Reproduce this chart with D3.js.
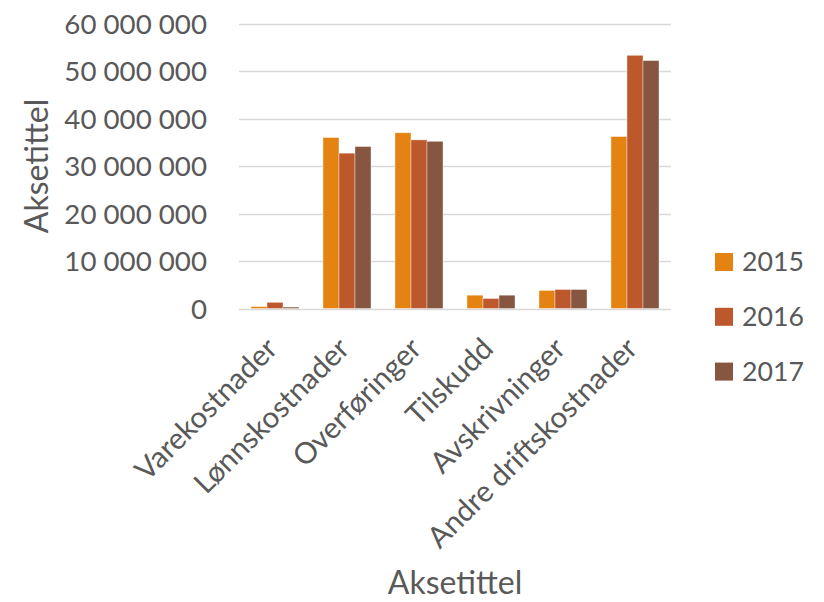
<!DOCTYPE html>
<html><head><meta charset="utf-8">
<script src="https://cdn.jsdelivr.net/npm/d3@7"></script>
<style>body{margin:0;background:#fff}svg{display:block}text{font-family:Lato,"Open Sans",sans-serif;fill:#595959}</style>
</head><body><svg id="c" width="824" height="602"></svg>
<script>
const categories = ["Varekostnader","Lønnskostnader","Overføringer","Tilskudd","Avskrivninger","Andre driftskostnader"];
const seriesNames = ["2015","2016","2017"];
const values2015 = [400000, 36000000, 37000000, 2800000, 3800000, 36200000];
const values2016 = [1300000, 32700000, 35500000, 2100000, 4000000, 53300000];
const values2017 = [300000, 34100000, 35200000, 2800000, 4000000, 52200000];
const yTicks = [0,10000000,20000000,30000000,40000000,50000000,60000000];
const colors = ["#E48312","#BD582C","#865640"];
const axisTitle = "Aksetittel";

const series = [values2015, values2016, values2017];
const svg = d3.select("#c");
const pL = 239, pR = 671, pT = 23.5, pB = 308.5;

const x = d3.scaleBand().domain(categories).range([pL,pR]).paddingInner(1/3).paddingOuter(1/6);
const xs = d3.scaleBand().domain(seriesNames).range([0,x.bandwidth()]);
const y = d3.scaleLinear().domain([0,60000000]).range([pB,pT]);

const loc = d3.formatLocale({thousands:"\u00a0", grouping:[3], decimal:",", currency:["",""]});
const fmt = loc.format(",d");

// gridlines
svg.append("g").selectAll("line").data(yTicks).join("line")
  .attr("x1",pL).attr("x2",pR)
  .attr("y1",d=>Math.round(y(d))+0.5).attr("y2",d=>Math.round(y(d))+0.5)
  .attr("stroke","#D9D9D9").attr("stroke-width",1.3);

// y labels
const yAxis = d3.axisLeft(y).tickValues(yTicks).tickFormat(fmt).tickSize(0).tickPadding(0);
const ya = svg.append("g").attr("transform",`translate(207,0)`).call(yAxis);
ya.select(".domain").remove();
ya.selectAll("text").attr("font-size",27.7).attr("fill","#595959").style("font-family","Lato").attr("dy","0.36em");

// bars
series.forEach((vals,si)=>{
  svg.append("g").selectAll("rect").data(vals).join("rect")
    .attr("x",(d,i)=>x(categories[i])+xs(seriesNames[si]))
    .attr("width",xs.bandwidth())
    .attr("y",d=>y(d)).attr("height",d=>y(0)-y(d))
    .attr("fill",colors[si]).attr("stroke","#fff").attr("stroke-opacity",0.5).attr("stroke-width",0.75);
});

// x labels
svg.append("g").selectAll("text").data(categories).join("text")
  .attr("transform",d=>`translate(${x(d)+x.bandwidth()/2+4},${pB+42}) rotate(-45)`)
  .attr("text-anchor","end").attr("font-size",29.5).text(d=>d);

// axis titles
svg.append("text").attr("x",(pL+pR)/2).attr("y",594).attr("text-anchor","middle").attr("font-size",32).text(axisTitle);
svg.append("text").attr("transform",`translate(48,166) rotate(-90)`).attr("text-anchor","middle").attr("font-size",32).text(axisTitle);

// legend
const lg = svg.append("g").selectAll("g").data(seriesNames).join("g")
  .attr("transform",(d,i)=>`translate(715,${253+i*54.8})`);
lg.append("rect").attr("width",18).attr("height",18).attr("fill",(d,i)=>colors[i]);
lg.append("text").attr("x",27).attr("y",18).attr("font-size",26.7).text(d=>d);
</script></body></html>
